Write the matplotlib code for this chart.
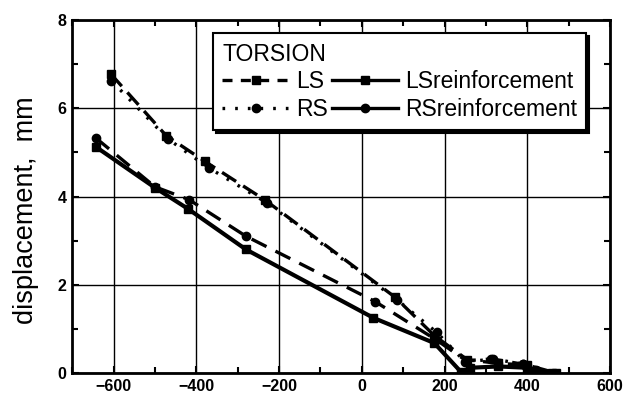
import matplotlib
matplotlib.use("Agg")
import matplotlib.pyplot as plt
from matplotlib.lines import Line2D
from matplotlib.ticker import MultipleLocator

plt.rcParams["font.family"] = ["Liberation Sans", "DejaVu Sans"]

# values
ls_x = [-607, -473, -380, -234, 80, 175, 255, 330, 400, 470]
ls_y = [6.78, 5.38, 4.80, 3.92, 1.72, 0.85, 0.30, 0.22, 0.18, 0.00]

rs_x = [-605, -468, -370, -230, 85, 181, 250, 318, 390, 420]
rs_y = [6.62, 5.30, 4.65, 3.86, 1.66, 0.92, 0.25, 0.32, 0.20, 0.06]

lsr_x = [-642, -500, -420, -280, 28, 175, 240, 262, 330, 400, 460]
lsr_y = [5.12, 4.20, 3.72, 2.80, 1.25, 0.68, 0.02, 0.12, 0.15, 0.12, 0.00]

rsr_x = [-642, -500, -418, -280, 32, 180, 252, 313, 390, 420]
rsr_y = [5.32, 4.22, 3.93, 3.10, 1.62, 0.75, 0.28, 0.32, 0.20, 0.05]

fig = plt.figure(figsize=(6.33, 3.99), dpi=100)
ax = fig.add_axes([0.114, 0.065, 0.85, 0.885])

lw = 2.4
ax.plot(ls_x, ls_y, color="black", lw=lw, dashes=(5, 2.5), marker="s", ms=6)
ax.plot(rs_x, rs_y, color="black", lw=lw, dashes=(0.8, 3), marker="o", ms=6)
ax.plot(lsr_x, lsr_y, color="black", lw=lw + 0.6, marker="s", ms=6)
ax.plot(rsr_x, rsr_y, color="black", lw=lw, dashes=(5, 3), marker="o", ms=6)

ax.set_xlim(-700, 600)
ax.set_ylim(0, 8)
ax.xaxis.set_major_locator(MultipleLocator(200))
ax.xaxis.set_minor_locator(MultipleLocator(100))
ax.yaxis.set_major_locator(MultipleLocator(2))
ax.yaxis.set_minor_locator(MultipleLocator(1))
ax.tick_params(which="both", direction="in", top=True, right=True, width=1.5)
ax.tick_params(which="major", length=5, labelsize=11.5, pad=4)
ax.tick_params(which="minor", length=4)
for lab in ax.get_xticklabels() + ax.get_yticklabels():
    lab.set_fontweight("bold")
ax.grid(True, which="major", color="black", lw=1.0)
for sp in ax.spines.values():
    sp.set_linewidth(2)

ax.set_ylabel("displacement,  mm", fontsize=19.5)
ax.yaxis.set_label_coords(-0.062, 0.46)

# legend samples styled like the original key
handles = [
    Line2D([], [], color="black", lw=lw, dashes=(3, 2.5), marker="s", ms=6),
    Line2D([], [], color="black", lw=lw, dashes=(0.8, 3), marker="o", ms=6),
    Line2D([], [], color="black", lw=lw, marker="s", ms=6),
    Line2D([], [], color="black", lw=lw, marker="o", ms=6),
]
labels = ["LS", "RS", "LSreinforcement", "RSreinforcement"]
leg = ax.legend(handles, labels, ncol=2, title="TORSION", loc="upper left",
                bbox_to_anchor=(0.262, 0.962), borderaxespad=0,
                fontsize=16.5, title_fontsize=16.5,
                alignment="left", numpoints=1, handlelength=2.9,
                handletextpad=0.3, columnspacing=0.2, labelspacing=0.2,
                borderpad=0.4, fancybox=False, framealpha=1,
                shadow={"color": "black", "alpha": 1})
leg.get_frame().set_edgecolor("black")
leg.get_frame().set_linewidth(1.5)

fig.savefig("out.png", dpi=100)
